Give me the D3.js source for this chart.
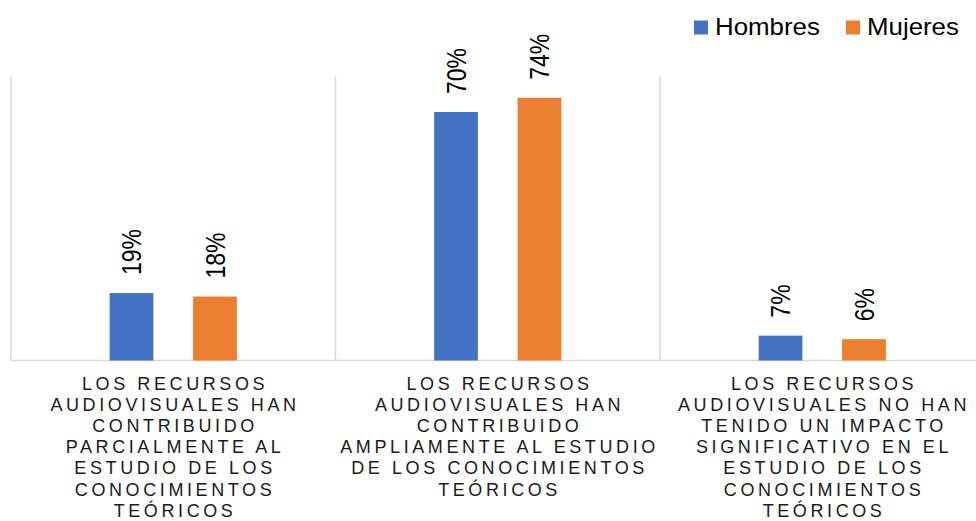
<!DOCTYPE html>
<html>
<head>
<meta charset="utf-8">
<script src="https://cdn.jsdelivr.net/npm/d3@7"></script>
<style>
  body { margin: 0; background: #fff; }
  text { font-family: "Liberation Sans", Arial, sans-serif; }
</style>
</head>
<body>
<svg></svg>
<script>
let categories = [
  'LOS RECURSOS\nAUDIOVISUALES HAN\nCONTRIBUIDO\nPARCIALMENTE AL\nESTUDIO DE LOS\nCONOCIMIENTOS\nTEÓRICOS',
  'LOS RECURSOS\nAUDIOVISUALES HAN\nCONTRIBUIDO\nAMPLIAMENTE AL ESTUDIO\nDE LOS CONOCIMIENTOS\nTEÓRICOS',
  'LOS RECURSOS\nAUDIOVISUALES NO HAN\nTENIDO UN IMPACTO\nSIGNIFICATIVO EN EL\nESTUDIO DE LOS\nCONOCIMIENTOS\nTEÓRICOS'
]
let series = ['Hombres', 'Mujeres']
let hombres = [19, 70, 7]
let mujeres = [18, 74, 6]
let colors = ['#4472C4', '#ED7D31']

let width = 976
let height = 521
let plotLeft = 11
let plotRight = 984.5
let plotTop = 76.5
let plotBottom = 360.5

let svg = d3.select('svg').attr('width', width).attr('height', height)

let data = categories.map((c, i) => ({cat: c, values: [
  {s: series[0], v: hombres[i]},
  {s: series[1], v: mujeres[i]}
]}))

let xScale = d3.scaleBand().domain(categories).range([plotLeft, plotRight]).padding(0)
let bw = xScale.bandwidth()
let xSub = d3.scaleBand().domain(series).range([bw * 0.304, bw * 0.696]).paddingInner(0.476)
let yScale = d3.scaleLinear().domain([0, 80]).range([plotBottom, plotTop])
let color = d3.scaleOrdinal().domain(series).range(colors)

// category separators
let bounds = categories.map(c => xScale(c)).concat([plotRight])
svg.selectAll('line.sep')
  .data(bounds)
  .enter()
  .append('line')
  .attr('x1', d => d).attr('x2', d => d)
  .attr('y1', yScale(80)).attr('y2', yScale(0))
  .attr('stroke', '#D9D9D9').attr('stroke-width', 1.5)

svg.append('line')
  .attr('x1', plotLeft).attr('x2', plotRight)
  .attr('y1', yScale(0)).attr('y2', yScale(0))
  .attr('stroke', '#D9D9D9').attr('stroke-width', 1.5)

let groups = svg.selectAll('g.cat')
  .data(data)
  .enter()
  .append('g')
  .attr('transform', d => 'translate(' + xScale(d.cat) + ',0)')

groups.selectAll('rect')
  .data(d => d.values)
  .enter()
  .append('rect')
  .attr('x', d => xSub(d.s))
  .attr('width', xSub.bandwidth())
  .attr('y', d => yScale(d.v))
  .attr('height', d => yScale(0) - yScale(d.v))
  .attr('fill', d => color(d.s))

groups.selectAll('text.val')
  .data(d => d.values)
  .enter()
  .append('text')
  .attr('class', 'val')
  .attr('transform', d => 'translate(' + (xSub(d.s) + xSub.bandwidth() / 2) + ',' + (yScale(d.v) - 18) + ') rotate(-90) scale(1,1.18)')
  .attr('dy', '0.36em')
  .attr('text-anchor', 'start')
  .attr('font-size', 23)
  .attr('fill', '#000')
  .text(d => d.v + '%')

// category labels
let ls = 3.6
groups.append('text')
  .attr('text-anchor', 'middle')
  .attr('font-size', 18)
  .attr('letter-spacing', ls)
  .attr('fill', '#1a1a1a')
  .selectAll('tspan')
  .data(d => d.cat.split('\n'))
  .enter()
  .append('tspan')
  .attr('x', bw / 2 + ls / 2)
  .attr('y', (d, i) => 389.5 + i * 21.2)
  .text(d => d)

// legend
let legendX = [694, 846]
let legend = svg.selectAll('g.legend')
  .data(series)
  .enter()
  .append('g')
  .attr('transform', (d, i) => 'translate(' + legendX[i] + ',0)')

legend.append('rect')
  .attr('x', 0).attr('y', 20.5)
  .attr('width', 14).attr('height', 14)
  .attr('fill', d => color(d))

legend.append('text')
  .attr('transform', 'translate(21,35) scale(1.1,1)')
  .attr('font-size', 23.5)
  .attr('fill', '#000')
  .text(d => d)
</script>
</body>
</html>
